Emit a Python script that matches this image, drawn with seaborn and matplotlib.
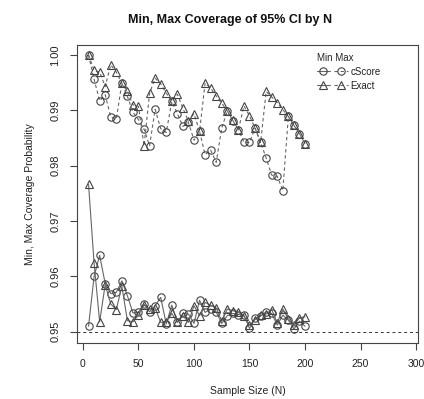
import matplotlib
matplotlib.use("Agg")
import matplotlib.pyplot as plt
import seaborn as sns
import pandas as pd
from matplotlib.legend_handler import HandlerTuple

N = list(range(5, 205, 5))

max_exact = [1.0000, 0.9972, 0.9969, 0.9943, 0.9982, 0.9969, 0.9949, 0.9934, 0.9910, 0.9907,
             0.9836, 0.9931, 0.9958, 0.9948, 0.9931, 0.9916, 0.9929, 0.9904, 0.9880, 0.9894,
             0.9862, 0.9949, 0.9940, 0.9926, 0.9913, 0.9899, 0.9882, 0.9865, 0.9908, 0.9890,
             0.9868, 0.9842, 0.9934, 0.9924, 0.9914, 0.9901, 0.9889, 0.9873, 0.9858, 0.9840]
max_cscore = [1.0000, 0.9956, 0.9917, 0.9928, 0.9888, 0.9884, 0.9949, 0.9925, 0.9897, 0.9883,
              0.9866, 0.9836, 0.9902, 0.9867, 0.9860, 0.9916, 0.9894, 0.9871, 0.9878, 0.9846,
              0.9862, 0.9820, 0.9828, 0.9806, 0.9868, 0.9899, 0.9881, 0.9865, 0.9842, 0.9842,
              0.9868, 0.9842, 0.9814, 0.9783, 0.9781, 0.9755, 0.9889, 0.9873, 0.9858, 0.9840]
min_exact = [0.9766, 0.9624, 0.9518, 0.9585, 0.9550, 0.9540, 0.9582, 0.9520, 0.9518, 0.9530,
             0.9548, 0.9541, 0.9543, 0.9517, 0.9517, 0.9533, 0.9517, 0.9529, 0.9517, 0.9547,
             0.9529, 0.9553, 0.9548, 0.9543, 0.9519, 0.9541, 0.9538, 0.9535, 0.9528, 0.9512,
             0.9522, 0.9530, 0.9532, 0.9540, 0.9516, 0.9541, 0.9523, 0.9512, 0.9525, 0.9527]
min_cscore = [0.9510, 0.9600, 0.9638, 0.9587, 0.9569, 0.9571, 0.9592, 0.9565, 0.9534, 0.9535,
              0.9550, 0.9536, 0.9547, 0.9562, 0.9514, 0.9548, 0.9517, 0.9533, 0.9532, 0.9515,
              0.9557, 0.9535, 0.9541, 0.9536, 0.9515, 0.9529, 0.9533, 0.9531, 0.9530, 0.9506,
              0.9524, 0.9528, 0.9536, 0.9533, 0.9512, 0.9530, 0.9521, 0.9505, 0.9519, 0.9510]

x_ticks = [0, 50, 100, 150, 200, 250, 300]
y_ticks = [0.95, 0.96, 0.97, 0.98, 0.99, 1.00]
y_tick_labels = ["0.95", "0.96", "0.97", "0.98", "0.99", "1.00"]

sns.set_theme(style="white")
plt.rcParams['font.family'] = ['Liberation Sans', 'DejaVu Sans']

fig = plt.figure(figsize=(4.24, 3.99), dpi=100)
W, H = 424, 399
ax = fig.add_axes([77 / W, 1 - 342.7 / H, (418 - 77) / W, (342.7 - 45) / H])

lc = '#666666'
mc = '#444444'
common = dict(color=lc, linewidth=0.8, markersize=5.3, markerfacecolor='none',
              markeredgecolor=mc, markeredgewidth=0.8)
dash = (0, (3, 2.5))

sns.lineplot(x=N, y=min_cscore, marker='o', ax=ax, **common)
sns.lineplot(x=N, y=min_exact, marker='^', ax=ax, **common)
sns.lineplot(x=N, y=max_cscore, marker='o', linestyle=dash, ax=ax, **common)
sns.lineplot(x=N, y=max_exact, marker='^', linestyle=dash, ax=ax, **common)

lines = ax.get_lines()
ax.axhline(0.95, color='#333333', linestyle=(0, (3, 3)), linewidth=0.7)

ax.set_xlim(-5.4, 301.8)
ax.set_ylim(0.94802, 1.0018)
ax.set_xticks(x_ticks)
ax.set_xticklabels([str(t) for t in x_ticks])
ax.set_yticks(y_ticks)
ax.set_yticklabels(y_tick_labels, rotation=90, va='center')
ax.tick_params(axis='both', direction='out', length=5, width=0.8, color='#444444',
               labelsize=7.5, labelcolor='#222222', pad=7, bottom=True, left=True)
ax.tick_params(axis='y', labelsize=8)
for s in ax.spines.values():
    s.set_visible(True)
    s.set_color('#444444')
    s.set_linewidth(0.8)

ax.set_xlabel("Sample Size (N)", fontsize=7.5, color='#222222', labelpad=12)
ax.set_ylabel("Min, Max Coverage Probability", fontsize=7.5, color='#222222', labelpad=11)

fig.text(230 / W, 1 - 20 / H, "Min, Max Coverage of 95% CI by N", ha='center', va='center',
         fontsize=9, fontweight='bold', color='#111111')

leg = ax.legend([(lines[0], lines[2]), (lines[1], lines[3])], ["cScore", "Exact"],
                handler_map={tuple: HandlerTuple(ndivide=None, pad=0.4)},
                title="Min Max", loc='upper left', bbox_to_anchor=(0.68, 1.0),
                frameon=False, fontsize=7, title_fontsize=7, handlelength=3.2,
                handletextpad=0.3, labelspacing=0.4, borderpad=0.3, alignment='left')
for t in leg.get_texts():
    t.set_color('#222222')

fig.savefig("out.png", dpi=100)
